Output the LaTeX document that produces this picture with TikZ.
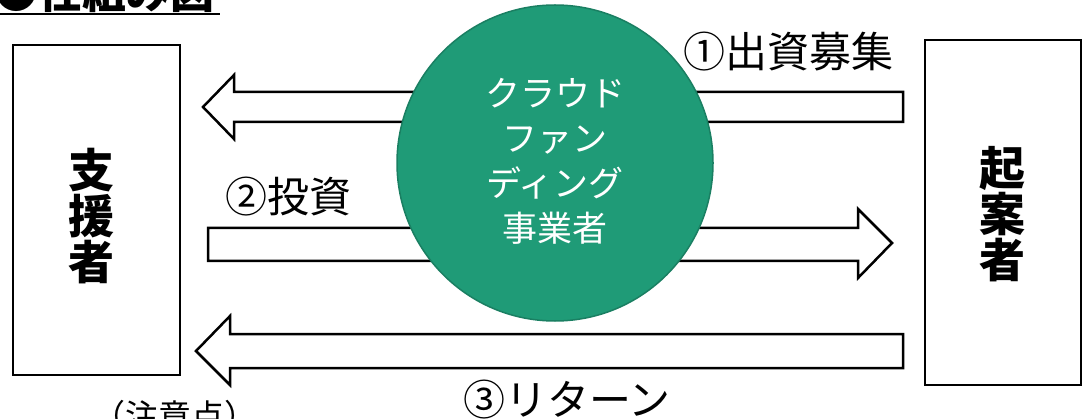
\documentclass[tikz,border=0pt]{standalone}
\usepackage{fontspec}
\newfontfamily\jp{Noto Sans CJK JP}
\definecolor{cfgreen}{HTML}{1F9B77}
\definecolor{cfedge}{HTML}{1A7F62}
\tikzset{
  party/.style={draw=black, line width=2pt},
  blockarrow/.style={draw=black, fill=white, line width=2.5pt, line join=miter},
  lbl/.style={font=\jp\fontsize{42}{46}\selectfont, inner sep=0pt},
}
\begin{document}
\begin{tikzpicture}[x=1pt,y=-1pt]
\useasboundingbox (0,0) rectangle (1083,419);
% boxes
\draw[party] (13,45) rectangle (180,375);
\draw[party] (925,40) rectangle (1081,385);
\node[inner sep=0pt, align=center, font=\jp\bfseries\fontsize{46}{46}\selectfont] (sup) at (91,216) {支\\援\\者};
\node[inner sep=0pt, align=center, font=\jp\bfseries\fontsize{46}{46}\selectfont] (kian) at (1002,214) {起\\案\\者};
% block arrows
\draw[blockarrow] (903,92) -- (234,92) -- (234,75) -- (203,107) -- (234,139) -- (234,122) -- (903,122) -- cycle;
\draw[blockarrow] (208,228) -- (858,228) -- (858,209) -- (892,243) -- (858,278) -- (858,261) -- (208,261) -- cycle;
\draw[blockarrow] (903,334) -- (230,334) -- (230,316) -- (196,351) -- (230,385) -- (230,368) -- (903,368) -- cycle;
% circle
\node[circle, fill=cfgreen, draw=cfedge, line width=1.5pt, minimum size=316pt, inner sep=0pt] (cf) at (555,163) {};
\node[inner sep=0pt, align=center, text=white, font=\jp\fontsize{35}{45}\selectfont] (cft) at (555,161) {クラウド\\ファン\\ディング\\事業者};
% labels
\node[lbl] (l1) at (788,52) {①出資募集};
\node[lbl] (l2) at (288,197) {②投資};
\node[lbl] (l3) at (567,400) {③リターン};
% title and note
\node[inner sep=0pt, anchor=base west, font=\jp\bfseries\fontsize{44}{44}\selectfont] (title) at (-6,9) {●仕組み図};
\draw[line width=2pt] (0,14) -- (220,14);
\node[inner sep=0pt, anchor=north, font=\jp\fontsize{33}{33}\selectfont] (note) at (175,400) {（注意点）};
\end{tikzpicture}
\end{document}
